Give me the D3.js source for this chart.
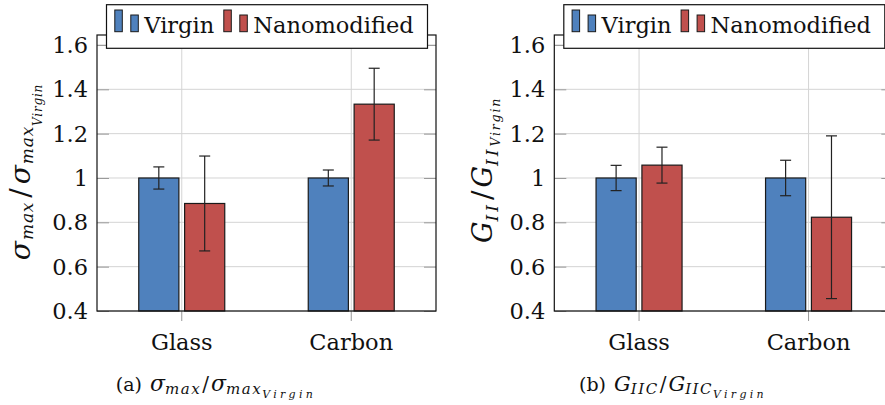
<!DOCTYPE html>
<html>
<head>
<meta charset="utf-8">
<script src="https://cdn.jsdelivr.net/npm/d3@7"></script>
<style>
  body { margin: 0; background: #fff; }
</style>
</head>
<body>
<script>
// data
var categories = ["Glass", "Carbon"];
var series = ["Virgin", "Nanomodified"];
var yTicks = [0.4, 0.6, 0.8, 1.0, 1.2, 1.4, 1.6];

// (a) sigma_max / sigma_max,Virgin
var sigmaVirgin = [1.0, 1.0];
var sigmaVirginErr = [0.05, 0.036];
var sigmaNano = [0.885, 1.333];
var sigmaNanoErr = [0.214, 0.162];

// (b) G_IIC / G_IIC,Virgin
var giiVirgin = [1.0, 1.0];
var giiVirginErr = [0.057, 0.08];
var giiNano = [1.058, 0.823];
var giiNanoErr = [0.081, 0.367];

var colors = ["#4f81bd", "#c0504d"];
var serifFont = "'DejaVu Serif', 'Liberation Serif', serif";

var svgWidth = 885;
var svgHeight = 405;

var svg = d3.select("body")
  .append("svg")
  .attr("width", svgWidth)
  .attr("height", svgHeight)
  .attr("font-family", serifFont);

var plotW = 339, plotH = 276;

function drawPanel(left, top, values, errors) {
  var g = svg.append("g")
    .attr("transform", "translate(" + left + "," + top + ")");

  var x = d3.scaleBand().domain(categories).range([0, plotW]);
  var xInner = d3.scaleBand().domain(series).range([-43, 43]).paddingInner(0.125);
  var y = d3.scaleLinear().domain([0.4, 1.645]).range([plotH, 0]);

  // grid
  g.append("g").selectAll("line")
    .data(yTicks).enter().append("line")
    .attr("x1", 0).attr("x2", plotW)
    .attr("y1", function(d) { return y(d); })
    .attr("y2", function(d) { return y(d); })
    .attr("stroke", "#d4d4d4").attr("stroke-width", 1);
  g.append("g").selectAll("line")
    .data(categories).enter().append("line")
    .attr("x1", function(d) { return x(d) + x.bandwidth() / 2; })
    .attr("x2", function(d) { return x(d) + x.bandwidth() / 2; })
    .attr("y1", 0).attr("y2", plotH)
    .attr("stroke", "#d4d4d4").attr("stroke-width", 1);

  // y ticks, inside on both sides
  var yAxisL = d3.axisLeft(y).tickValues(yTicks).tickSize(-12).tickFormat("");
  var yAxisR = d3.axisRight(y).tickValues(yTicks).tickSize(-12).tickFormat("");
  g.append("g").call(yAxisL)
    .call(function(s) { s.select(".domain").remove(); s.selectAll("line").attr("stroke", "#999"); });
  g.append("g").attr("transform", "translate(" + plotW + ",0)").call(yAxisR)
    .call(function(s) { s.select(".domain").remove(); s.selectAll("line").attr("stroke", "#999"); });

  // y tick labels
  g.append("g").selectAll("text")
    .data(yTicks).enter().append("text")
    .attr("x", -9)
    .attr("y", function(d) { return y(d); })
    .attr("dy", "0.36em")
    .attr("text-anchor", "end")
    .attr("font-family", serifFont)
    .attr("font-size", 22.5)
    .attr("fill", "#111")
    .text(function(d) { return d === 1 ? "1" : d3.format(".1f")(d); });

  // x axis ticks below
  var xAxis = d3.axisBottom(x).tickSize(10).tickFormat("");
  g.append("g").attr("transform", "translate(0," + plotH + ")").call(xAxis)
    .call(function(s) { s.select(".domain").remove(); s.selectAll("line").attr("stroke", "#999"); });

  g.append("g").selectAll("text")
    .data(categories).enter().append("text")
    .attr("x", function(d) { return x(d) + x.bandwidth() / 2; })
    .attr("y", plotH + 39)
    .attr("text-anchor", "middle")
    .attr("font-family", serifFont)
    .attr("font-size", 22.5)
    .attr("fill", "#111")
    .text(function(d) { return d; });

  // bars
  series.forEach(function(s, si) {
    var cells = categories.map(function(c, ci) {
      return { cat: c, v: values[si][ci], e: errors[si][ci] };
    });
    var bg = g.append("g");
    bg.selectAll("rect")
      .data(cells).enter().append("rect")
      .attr("x", function(d) { return x(d.cat) + x.bandwidth() / 2 + xInner(s); })
      .attr("width", xInner.bandwidth())
      .attr("y", function(d) { return y(d.v); })
      .attr("height", function(d) { return plotH - y(d.v); })
      .attr("fill", colors[si])
      .attr("stroke", "#1a1a1a")
      .attr("stroke-width", 1.2);

    // error bars
    var eg = bg.selectAll("g")
      .data(cells).enter().append("g")
      .attr("transform", function(d) {
        return "translate(" + (x(d.cat) + x.bandwidth() / 2 + xInner(s) + xInner.bandwidth() / 2) + ",0)";
      })
      .attr("stroke", "#222").attr("stroke-width", 1.2);
    eg.append("line")
      .attr("y1", function(d) { return y(d.v + d.e); })
      .attr("y2", function(d) { return y(d.v - d.e); });
    eg.append("line").attr("x1", -5.5).attr("x2", 5.5)
      .attr("y1", function(d) { return y(d.v + d.e); })
      .attr("y2", function(d) { return y(d.v + d.e); });
    eg.append("line").attr("x1", -5.5).attr("x2", 5.5)
      .attr("y1", function(d) { return y(d.v - d.e); })
      .attr("y2", function(d) { return y(d.v - d.e); });
  });

  // frame
  g.append("rect")
    .attr("width", plotW).attr("height", plotH)
    .attr("fill", "none").attr("stroke", "#111").attr("stroke-width", 1.2);

  // legend
  var lg = g.append("g").attr("transform", "translate(9.5," + (-30.3) + ")");
  lg.append("rect")
    .attr("width", 321).attr("height", 43.6)
    .attr("fill", "#fff").attr("stroke", "#111").attr("stroke-width", 1.2);
  var entryX = [8.3, 117.3];
  series.forEach(function(s, si) {
    var e = lg.append("g").attr("transform", "translate(" + entryX[si] + ",0)");
    e.append("rect").attr("x", 0).attr("y", 5.3).attr("width", 7.5).attr("height", 21.7)
      .attr("fill", colors[si]).attr("stroke", "#1a1a1a").attr("stroke-width", 1);
    e.append("rect").attr("x", 16).attr("y", 10.3).attr("width", 7.5).attr("height", 16.7)
      .attr("fill", colors[si]).attr("stroke", "#1a1a1a").attr("stroke-width", 1);
    e.append("text").attr("x", 29.5).attr("y", 28.5)
      .attr("font-family", serifFont)
      .attr("font-size", 22.5)
      .attr("fill", "#111")
      .text(s);
  });

  return g;
}

// math-ish label helper: parts = [text, size, dy, italic, letterSpacing, dx]
function mathText(sel, parts) {
  sel.attr("font-family", serifFont).attr("fill", "#111");
  parts.forEach(function(p) {
    sel.append("tspan")
      .text(p[0])
      .attr("font-size", p[1])
      .attr("dy", p[2])
      .attr("dx", p[5] || 0)
      .attr("letter-spacing", p[4] || 0)
      .attr("font-style", p[3] ? "italic" : "normal");
  });
}

var left1 = 97, left2 = 554.3, top0 = 35;

drawPanel(left1, top0, [sigmaVirgin, sigmaNano], [sigmaVirginErr, sigmaNanoErr]);
drawPanel(left2, top0, [giiVirgin, giiNano], [giiVirginErr, giiNanoErr]);

// y axis labels
var yl1 = svg.append("text")
  .attr("transform", "translate(30,172) rotate(-90)")
  .attr("text-anchor", "middle");
mathText(yl1, [["σ", 28, 0, true, 0, 0], ["max", 17, 3, true, 0.8, 1], ["/", 28, -3, false, 0, 4],
  ["σ", 28, 0, true, 0, 4], ["max", 17, 3, true, 0.8, 1], ["Virgin", 12, 9, true, 0.8, 0]]);

var yl2 = svg.append("text")
  .attr("transform", "translate(492,170) rotate(-90)")
  .attr("text-anchor", "middle");
mathText(yl2, [["G", 27, 0, true, 0, 0], ["II", 17, 6, true, 3, 0], ["/", 28, -6, false, 0, 2],
  ["G", 27, 0, true, 0, 3], ["II", 17, 6, true, 3, 0], ["Virgin", 12.5, 2, true, 1.8, 0]]);

// captions
var c1 = svg.append("text")
  .attr("x", 216).attr("y", 391)
  .attr("text-anchor", "middle");
mathText(c1, [["(a) ", 19, 0, false, 0, 0], ["σ", 22, 0, true, 0, 2], ["max", 15, 3, true, 1.5, 0],
  ["/", 20, -3, false, 0, 1], ["σ", 22, 0, true, 0, 2], ["max", 15, 3, true, 1.5, 0],
  ["Virgin", 11, 3.5, true, 3.3, 0]]);

var c2 = svg.append("text")
  .attr("x", 673).attr("y", 391)
  .attr("text-anchor", "middle");
mathText(c2, [["(b) ", 19, 0, false, 0, 0], ["G", 21, 0, true, 0, 2], ["IIC", 15, 3, true, 1.5, 0],
  ["/", 20, -3, false, 0, 1], ["G", 21, 0, true, 0, 2], ["IIC", 15, 3, true, 1.5, 0],
  ["Virgin", 11, 3.5, true, 3.3, 0]]);
</script>
</body>
</html>
